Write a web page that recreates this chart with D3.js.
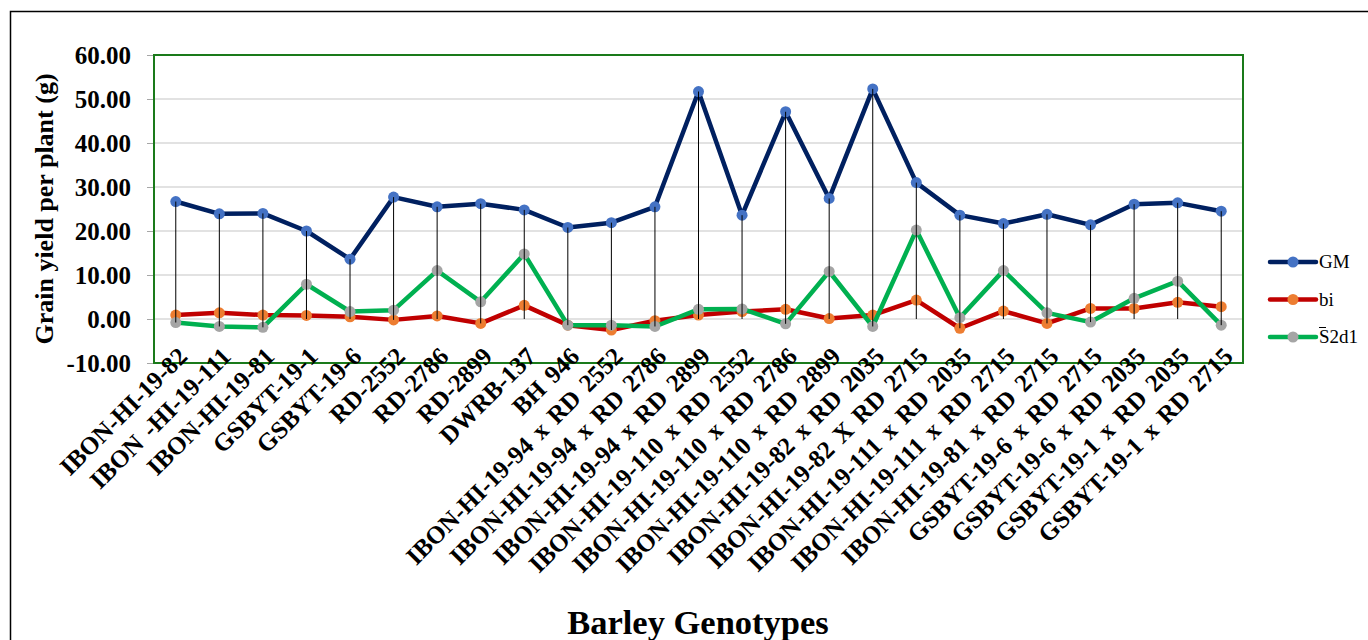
<!DOCTYPE html>
<html><head><meta charset="utf-8">
<script src="https://cdn.jsdelivr.net/npm/d3@7"></script>
<style>body{margin:0;background:#fff}svg{display:block}</style>
</head><body>
<svg id="c" width="1368" height="640"></svg>
<script>
const categories = ["IBON-HI-19-82","IBON -HI-19-111","IBON-HI-19-81","GSBYT-19-1","GSBYT-19-6","RD-2552","RD-2786","RD-2899","DWRB-137","BH 946",
"IBON-HI-19-94 x RD 2552","IBON-HI-19-94 x RD 2786","IBON-HI-19-94 x RD 2899","IBON-HI-19-110 x RD 2552","IBON-HI-19-110 x RD 2786","IBON-HI-19-110 x RD 2899",
"IBON-HI-19-82 x RD 2035","IBON-HI-19-82 X RD 2715","IBON-HI-19-111 x RD 2035","IBON-HI-19-111 x RD 2715","IBON-HI-19-81 x RD 2715","GSBYT-19-6 x RD 2715",
"GSBYT-19-6 x RD 2035","GSBYT-19-1 x RD 2035","GSBYT-19-1 x RD 2715"];
const GM = [26.7,23.9,24.0,20.0,13.6,27.7,25.5,26.2,24.8,20.8,21.9,25.5,51.7,23.6,47.1,27.4,52.3,31.0,23.6,21.7,23.8,21.4,26.1,26.4,24.5];
const bi = [0.9,1.4,0.9,0.8,0.5,-0.2,0.7,-1.0,3.1,-1.4,-2.5,-0.4,0.9,1.7,2.2,0.1,0.9,4.3,-2.1,1.8,-1.0,2.4,2.4,3.8,2.8];
const S2d1 = [-0.8,-1.7,-1.9,7.9,1.7,2.0,11.0,3.9,14.8,-1.4,-1.4,-1.7,2.2,2.3,-1.1,10.8,-1.7,20.2,0.3,11.0,1.4,-0.7,4.7,8.6,-1.4];
const yTicks = [-10,0,10,20,30,40,50,60];
const seriesNames = ["GM","bi","S2d1"];

const series = [
  {name:"GM", values:GM, line:"#002060", marker:"#4472c4"},
  {name:"bi", values:bi, line:"#c00000", marker:"#ed7d31"},
  {name:"S2d1", values:S2d1, line:"#00b050", marker:"#a5a5a5"}
];

const svg = d3.select("#c");
const L=154, R=1243, T=55, B=363;
const x = d3.scaleBand().domain(categories).range([L,R]);
const y = d3.scaleLinear().domain([-10,60]).range([B,T]);
const cx = d => x(d) + x.bandwidth()/2;
const serif = "'Liberation Serif','Times New Roman',serif";

// outer frame
svg.append("rect").attr("x",10.5).attr("y",11.5).attr("width",1400).attr("height",700)
  .attr("fill","none").attr("stroke","#000").attr("stroke-width",1.5);

// gridlines
svg.append("g").selectAll("line").data(yTicks.filter(t=>t>-10 && t<60)).join("line")
  .attr("x1",L).attr("x2",R).attr("y1",d=>y(d)).attr("y2",d=>y(d))
  .attr("stroke","#d9d9d9").attr("stroke-width",1.5);

// y axis
const yAxis = d3.axisLeft(y).tickValues(yTicks).tickFormat(d=>d.toFixed(2)).tickSize(7).tickPadding(16);
const ya = svg.append("g").attr("transform",`translate(${L},0)`).call(yAxis);
ya.select(".domain").remove();
ya.selectAll(".tick line").attr("stroke","#a6a6a6");
ya.selectAll(".tick text").attr("font-family",serif).attr("font-weight","bold").attr("font-size",25).attr("fill","#000");

// plot border
svg.append("rect").attr("x",L).attr("y",T).attr("width",R-L).attr("height",B-T)
  .attr("fill","none").attr("stroke","#1a7a1a").attr("stroke-width",2);

// x axis labels
const xAxis = d3.axisBottom(x).tickSize(0).tickPadding(0);
const xa = svg.append("g").attr("transform",`translate(0,${B})`).call(xAxis);
xa.select(".domain").remove();
xa.selectAll(".tick text")
  .attr("font-family",serif).attr("font-weight","bold").attr("font-size",25).attr("fill","#000")
  .attr("word-spacing",3)
  .attr("text-anchor","end").attr("dy",null).attr("y",0)
  .attr("transform","translate(13,-5) rotate(-45)");

// series lines
const lineGen = vals => d3.line().x((d,i)=>cx(categories[i])).y(d=>y(d))(vals);
series.forEach(s=>{
  svg.append("path").attr("d",lineGen(s.values)).attr("fill","none")
    .attr("stroke",s.line).attr("stroke-width",4.5).attr("stroke-linejoin","round");
  svg.append("g").selectAll("circle").data(s.values).join("circle")
    .attr("cx",(d,i)=>cx(categories[i])).attr("cy",d=>y(d)).attr("r",5.5).attr("fill",s.marker);
});

// drop lines
svg.append("g").selectAll("line").data(categories).join("line")
  .attr("x1",d=>cx(d)).attr("x2",d=>cx(d))
  .attr("y1",(d,i)=>y(Math.max(GM[i],bi[i],S2d1[i])))
  .attr("y2",(d,i)=>y(Math.min(0,bi[i],S2d1[i])))
  .attr("stroke","#000").attr("stroke-width",1);

// axis titles
svg.append("text").attr("transform",`translate(53,209) rotate(-90)`).attr("text-anchor","middle")
  .attr("font-family",serif).attr("font-weight","bold").attr("font-size",26).text("Grain yield per plant (g)");
svg.append("text").attr("x",698).attr("y",634).attr("text-anchor","middle")
  .attr("font-family",serif).attr("font-weight","bold").attr("font-size",34.5).text("Barley Genotypes");

// legend
const leg = svg.append("g");
series.forEach((s,i)=>{
  const ly = 262 + i*37.5;
  leg.append("line").attr("x1",1270).attr("x2",1316).attr("y1",ly).attr("y2",ly)
    .attr("stroke",s.line).attr("stroke-width",4.5).attr("stroke-linecap","round");
  leg.append("circle").attr("cx",1293).attr("cy",ly).attr("r",5.5).attr("fill",s.marker);
  leg.append("text").attr("x",1319).attr("y",ly+6).attr("font-family",serif).attr("font-size",19).text(s.name);
  if(s.name==="S2d1"){
    leg.append("line").attr("x1",1319).attr("x2",1326).attr("y1",ly-9.5).attr("y2",ly-9.5).attr("stroke","#000").attr("stroke-width",1);
  }
});
</script>
</body></html>
